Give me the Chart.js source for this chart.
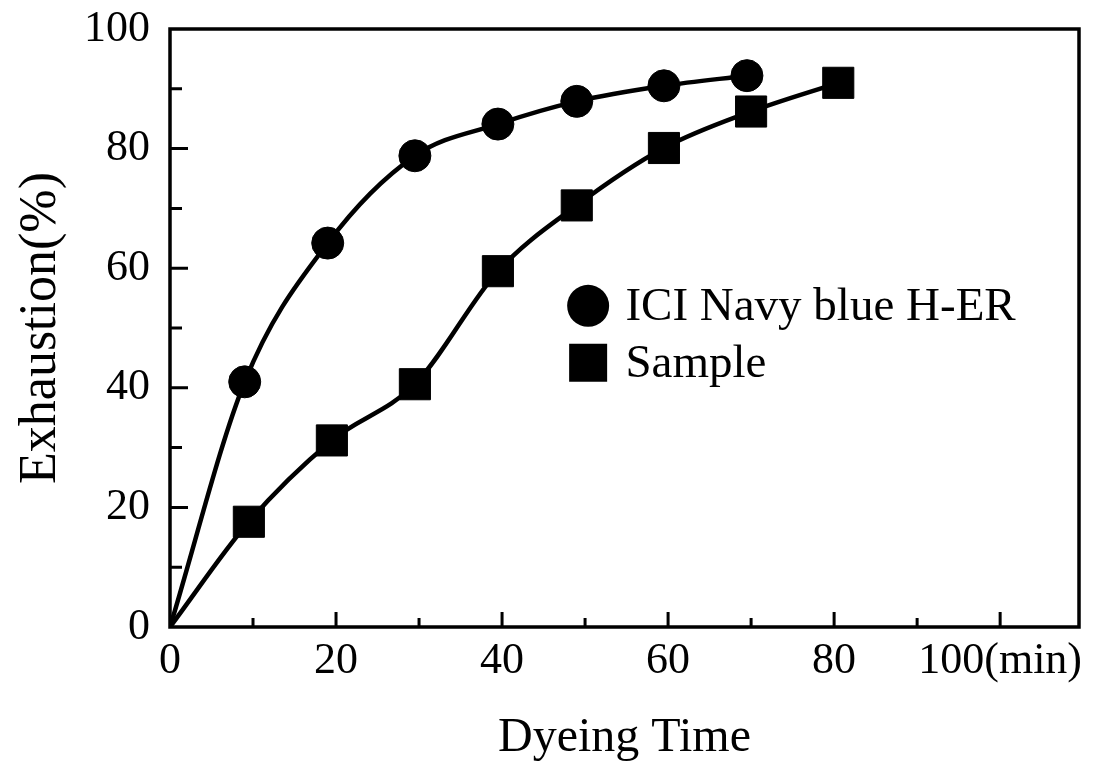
<!DOCTYPE html>
<html><head><meta charset="utf-8">
<script src="https://cdn.jsdelivr.net/npm/chart.js@4/dist/chart.umd.min.js"></script>
<style>html,body{margin:0;padding:0;background:#fff;} #wrap{width:1106px;height:767px;position:relative;}</style>
</head><body><div id="wrap"><canvas id="c"></canvas></div>
<script>
// ---- data ----
const timesICI = [0, 9, 19, 29.5, 39.5, 49, 59.5, 69.5];
const exhaustionICI = [0, 41, 64.2, 78.8, 84.1, 87.9, 90.5, 92.2];
const timesSample = [0, 9.5, 19.5, 29.5, 39.5, 49, 59.5, 70, 80.5];
const exhaustionSample = [0, 17.6, 31.2, 40.6, 59.5, 70.5, 80.1, 86.2, 91.0];
const seriesNames = ['ICI Navy blue H-ER', 'Sample'];
const xTickValues = [0, 10, 20, 30, 40, 50, 60, 70, 80, 90, 100];
const xTickLabels = ['0', '', '20', '', '40', '', '60', '', '80', '', '100(min)'];
const yTickValues = [0, 10, 20, 30, 40, 50, 60, 70, 80, 90, 100];
const yTickLabels = ['0', '', '20', '', '40', '', '60', '', '80', '', '100'];
const xTitle = 'Dyeing Time';
const yTitle = 'Exhaustion(%)';

const FONT = "'Liberation Serif', 'Times New Roman', serif";
Chart.defaults.font.family = FONT;
Chart.defaults.color = '#000';

const toPts = (xs, ys) => xs.map((x, i) => ({x: x, y: ys[i]}));

const frameAndTicks = {
  id: 'frameAndTicks',
  afterDatasetsDraw(chart) {
    const {ctx, chartArea: a, scales: {x, y}} = chart;
    ctx.save();
    ctx.strokeStyle = '#000';
    ctx.lineWidth = 3.5;
    ctx.strokeRect(a.left, a.top, a.right - a.left, a.bottom - a.top);
    ctx.lineWidth = 3;
    ctx.beginPath();
    x.ticks.forEach(t => {
      if (t.value === 0) return;
      const px = x.getPixelForValue(t.value);
      const len = t.value % 20 === 0 ? 15 : 9;
      ctx.moveTo(px, a.bottom); ctx.lineTo(px, a.bottom - len);
    });
    y.ticks.forEach(t => {
      if (t.value === 0 || t.value === 100) return;
      const py = y.getPixelForValue(t.value);
      const len = t.value % 20 === 0 ? 18 : 12;
      ctx.moveTo(a.left, py); ctx.lineTo(a.left + len, py);
    });
    ctx.stroke();
    ctx.restore();
  }
};

const innerLegend = {
  id: 'innerLegend',
  afterDraw(chart) {
    const {ctx, chartArea: a} = chart;
    const w = a.right - a.left, h = a.bottom - a.top;
    const mx = a.left + w * 0.460;
    const tx = a.left + w * 0.501;
    const rows = [a.top + h * 0.463, a.top + h * 0.558];
    ctx.save();
    ctx.fillStyle = '#000';
    chart.data.datasets.forEach((ds, i) => {
      const cy = rows[i];
      ctx.beginPath();
      if (ds.pointStyle === 'circle') {
        ctx.arc(mx, cy, 21, 0, Math.PI * 2);
      } else {
        ctx.rect(mx - 19, cy - 19, 38, 38);
      }
      ctx.fill();
      ctx.font = '47px ' + FONT;
      ctx.textBaseline = 'middle';
      ctx.textAlign = 'left';
      ctx.fillText(ds.label, tx, cy + 2);
    });
    ctx.restore();
  }
};

new Chart(document.getElementById('c'), {
  type: 'line',
  data: {
    datasets: [
      {
        label: seriesNames[0],
        data: toPts(timesICI, exhaustionICI),
        borderColor: '#000', backgroundColor: '#000', borderWidth: 4.5,
        pointStyle: 'circle',
        pointRadius: c => c.dataIndex === 0 ? 0 : 16,
        pointBorderWidth: 1,
        cubicInterpolationMode: 'monotone'
      },
      {
        label: seriesNames[1],
        data: toPts(timesSample, exhaustionSample),
        borderColor: '#000', backgroundColor: '#000', borderWidth: 4.5,
        pointStyle: 'rect',
        pointRadius: c => c.dataIndex === 0 ? 0 : 22,
        pointBorderWidth: 1,
        cubicInterpolationMode: 'monotone'
      }
    ]
  },
  options: {
    responsive: true,
    maintainAspectRatio: false,
    animation: false,
    devicePixelRatio: 1,
    layout: {padding: {left: 10, right: 27, top: 29, bottom: 0}},
    plugins: {legend: {display: false}, tooltip: {enabled: false}},
    scales: {
      x: {
        type: 'linear', min: 0, max: 109.5,
        afterBuildTicks: s => { s.ticks = xTickValues.map(v => ({value: v})); },
        afterFit: s => { s.height = 140; s.paddingLeft = 0; s.paddingRight = 0; },
        grid: {display: false, drawTicks: false},
        border: {display: false},
        ticks: {
          autoSkip: false, maxRotation: 0, padding: 8,
          font: {size: 44},
          callback: (v) => { const i = xTickValues.indexOf(v); return i >= 0 ? xTickLabels[i] : ''; }
        },
        title: {display: true, text: xTitle, font: {size: 48}, padding: {top: 0, bottom: 0}}
      },
      y: {
        type: 'linear', min: 0, max: 100,
        afterBuildTicks: s => { s.ticks = yTickValues.map(v => ({value: v})); },
        afterFit: s => { s.width = 160; s.paddingTop = 0; s.paddingBottom = 0; },
        grid: {display: false, drawTicks: false},
        border: {display: false},
        ticks: {
          autoSkip: false, padding: 20,
          font: {size: 44},
          callback: (v) => { const i = yTickValues.indexOf(v); return i >= 0 ? yTickLabels[i] : ''; }
        },
        title: {display: true, text: yTitle, font: {size: 52}, padding: {top: 0, bottom: 0}}
      }
    }
  },
  plugins: [frameAndTicks, innerLegend]
});
</script>
</body></html>
